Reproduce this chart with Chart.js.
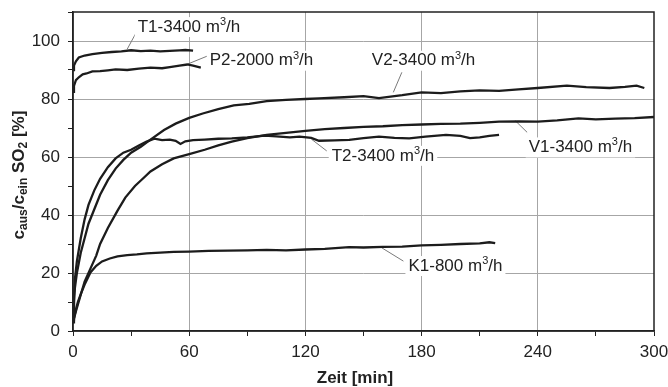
<!DOCTYPE html>
<html>
<head>
<meta charset="utf-8">
<script src="https://cdn.jsdelivr.net/npm/chart.js@4"></script>
<style>
  body { margin: 0; background: #fff; }
  #wrap { width: 668px; height: 387px; }
</style>
</head>
<body>
<div id="wrap"><canvas id="chart"></canvas></div>
<script>
// values (time in min, c_aus/c_ein in %)
const t1Time = [0, 0.5, 1.5, 3, 6, 10, 15, 20, 25, 30, 35, 40, 45, 50, 55, 58, 62];
const t1Val  = [90, 91.5, 93, 94.3, 95, 95.5, 95.9, 96.2, 96.4, 96.8, 96.5, 96.7, 96.4, 96.6, 96.8, 96.9, 96.7];

const p2Time = [0, 0.5, 1.5, 3, 5, 7, 10, 14, 18, 22, 28, 34, 40, 46, 50, 55, 59, 62, 66];
const p2Val  = [82.5, 84.5, 86.5, 87.5, 88.5, 88.8, 89.5, 89.6, 89.9, 90.2, 90, 90.5, 90.8, 90.6, 91, 91.5, 91.9, 91.5, 90.8];

const v2Time = [0, 0.5, 1, 2, 4, 6, 8, 11, 14, 18, 22, 26, 30, 35, 40, 47, 53, 60, 67, 75, 83, 91, 100, 110, 120, 127, 140, 150, 158, 170, 180, 190, 200, 210, 220, 230, 240, 255, 265, 277, 285, 291, 295];
const v2Val  = [3, 10, 15, 20, 27, 32, 37, 42, 47, 52, 56, 59, 61.5, 63.5, 66, 69.3, 71.5, 73.5, 75, 76.5, 77.8, 78.3, 79.3, 79.7, 80, 80.2, 80.6, 81, 80.3, 81.3, 82.3, 82, 82.6, 83, 82.8, 83.3, 83.8, 84.6, 84.1, 83.8, 84.2, 84.6, 83.8];

const v1Time = [0, 2, 4, 6, 9, 12, 14, 18, 23, 27, 32, 36, 40, 46, 52, 60, 68, 75, 82, 90, 100, 110, 120, 130, 140, 150, 160, 170, 180, 190, 200, 210, 220, 230, 240, 250, 261, 270, 280, 290, 300];
const v1Val  = [3, 8, 12.5, 17, 21.5, 26, 30, 35.5, 41.5, 46, 50, 52.5, 55, 57.5, 59.5, 61, 62.5, 64, 65.3, 66.5, 67.6, 68.3, 69, 69.6, 70, 70.4, 70.6, 71, 71.2, 71.4, 71.5, 71.8, 72.2, 72.3, 72.2, 72.6, 73.3, 73, 73.2, 73.4, 73.8];

const t2Time = [0, 0.5, 1, 2, 4, 6, 8, 11, 14, 18, 22, 26, 30, 34, 38, 42, 46, 50, 53, 55.5, 58, 62, 68, 75, 82, 90, 99, 105, 112, 117, 123, 127, 135, 142.6, 150, 158, 166, 173.6, 182, 192.6, 200, 205, 210, 215, 220];
const t2Val  = [4, 12, 18, 24, 32, 38.5, 43.5, 48.5, 52.5, 56.5, 59.5, 61.5, 62.5, 64, 65.3, 66.3, 65.8, 66, 65.6, 64.5, 65.4, 65.8, 66, 66.3, 66.4, 66.8, 67.4, 67.1, 66.8, 67, 66.6, 65.6, 65.7, 65.9, 66.5, 67, 66.6, 66.4, 67, 67.6, 67.3, 66.5, 66.8, 67.3, 67.6];

const k1Time = [0, 1, 2.5, 4, 6, 9, 12, 15, 19, 23, 28, 33, 38, 45, 52, 60, 70, 80, 90, 100, 110, 120, 130, 142.6, 150, 160, 170, 180, 190, 200, 210, 215, 218];
const k1Val  = [3, 6, 10, 12.7, 16, 20.2, 22.5, 24, 25, 25.7, 26.2, 26.4, 26.8, 27, 27.3, 27.4, 27.6, 27.7, 27.8, 28, 27.8, 28.1, 28.3, 28.9, 28.8, 29, 29.1, 29.5, 29.7, 30, 30.2, 30.6, 30.3];

// label texts, positions in data units (text left edge, text middle) and leader lines
const labelNames = ['T1-3400 m', 'P2-2000 m', 'V2-3400 m', 'T2-3400 m', 'V1-3400 m', 'K1-800 m'];
const labelX = [33.4, 70.6, 154.3, 133.6, 235.3, 173.2];
const labelY = [104.8, 93.2, 93.2, 60.4, 63.3, 22.4];
const leaderFrom = [[32.7, 103], [69.7, 94.9], [169.8, 89.2], [131, 62.1], [234.5, 68.5], [170.6, 24.1]];
const leaderTo   = [[28, 97.2], [59.4, 92.1], [165.4, 82.3], [123.2, 66.1], [228.4, 72.5], [159.4, 28.7]];

const FONT = '"Liberation Sans", Arial, sans-serif';
const LINE = '#1c1c1c';

function pts(ts, vs) {
    return ts.map((t, i) => ({ x: t, y: vs[i] }));
}

function series(ts, vs) {
    return {
        data: pts(ts, vs),
        borderColor: LINE,
        borderWidth: 2.3,
        pointRadius: 0,
        fill: false,
        tension: 0
    };
}

// draws a row of text parts, some of them raised or lowered in a smaller font
function drawParts(ctx, parts, x, y) {
    let cx = x;
    parts.forEach(p => {
        ctx.font = p.font;
        ctx.fillText(p.t, cx, y + (p.dy || 0));
        cx += ctx.measureText(p.t).width;
    });
    return cx - x;
}

function partsWidth(ctx, parts) {
    let w = 0;
    parts.forEach(p => { ctx.font = p.font; w += ctx.measureText(p.t).width; });
    return w;
}

const decor = {
    id: 'decor',
    beforeDatasetsDraw(chart) {
        const ctx = chart.ctx;
        const xs = chart.scales.x, ys = chart.scales.y;
        ctx.save();
        // leader lines
        ctx.strokeStyle = '#7a7a7a';
        ctx.lineWidth = 1;
        leaderFrom.forEach((f, i) => {
            ctx.beginPath();
            ctx.moveTo(xs.getPixelForValue(f[0]), ys.getPixelForValue(f[1]));
            ctx.lineTo(xs.getPixelForValue(leaderTo[i][0]), ys.getPixelForValue(leaderTo[i][1]));
            ctx.stroke();
        });
        // labels with white box
        ctx.textBaseline = 'middle';
        ctx.textAlign = 'left';
        labelNames.forEach((name, i) => {
            const parts = [
                { t: name, font: '17px ' + FONT },
                { t: '3', font: '11px ' + FONT, dy: -5 },
                { t: '/h', font: '17px ' + FONT }
            ];
            const x = xs.getPixelForValue(labelX[i]);
            const y = ys.getPixelForValue(labelY[i]);
            const w = partsWidth(ctx, parts);
            ctx.fillStyle = '#fff';
            ctx.fillRect(x - 3, y - 10, w + 6, 20);
            ctx.fillStyle = '#222';
            drawParts(ctx, parts, x, y);
        });
        ctx.restore();
    },
    afterDraw(chart) {
        const ctx = chart.ctx;
        const a = chart.chartArea;
        ctx.save();
        // frame round the plot
        ctx.strokeStyle = '#222';
        ctx.lineWidth = 1.5;
        ctx.strokeRect(a.left, a.top, a.right - a.left, a.bottom - a.top);

        ctx.fillStyle = '#222';
        ctx.textBaseline = 'middle';
        // x title
        ctx.textAlign = 'left';
        const xt = [{ t: 'Zeit [min]', font: 'bold 17px ' + FONT }];
        drawParts(ctx, xt, 355 - partsWidth(ctx, xt) / 2, 378);

        // y title with subscripts
        const big = 'bold 17px ' + FONT, small = 'bold 12px ' + FONT;
        const yt = [
            { t: 'c', font: big }, { t: 'aus', font: small, dy: 5 },
            { t: '/c', font: big }, { t: 'ein', font: small, dy: 5 },
            { t: ' SO', font: big }, { t: '2', font: small, dy: 5 },
            { t: ' [%]', font: big }
        ];
        ctx.translate(19, 175);
        ctx.rotate(-Math.PI / 2);
        drawParts(ctx, yt, -partsWidth(ctx, yt) / 2, 0);
        ctx.restore();
    }
};

new Chart(document.getElementById('chart'), {
    type: 'line',
    data: {
        datasets: [
            series(t1Time, t1Val),
            series(p2Time, p2Val),
            series(v2Time, v2Val),
            series(v1Time, v1Val),
            series(t2Time, t2Val),
            series(k1Time, k1Val)
        ]
    },
    options: {
        responsive: true,
        maintainAspectRatio: false,
        animation: false,
        layout: { padding: { left: 0, right: 14, top: 12, bottom: 0 } },
        plugins: {
            legend: { display: false },
            tooltip: { enabled: false }
        },
        scales: {
            x: {
                type: 'linear',
                min: 0,
                max: 300,
                afterFit: s => { s.height = 56; s.paddingLeft = 0; s.paddingRight = 0; },
                ticks: {
                    stepSize: 30,
                    padding: 6,
                    color: '#222',
                    font: { family: FONT, size: 17 },
                    maxRotation: 0,
                    callback: v => (v % 60 === 0 ? v : '')
                },
                grid: {
                    color: c => (c.tick.value % 60 === 0 && c.tick.value > 0 && c.tick.value < 300 ? '#a6a6a6' : 'rgba(0,0,0,0)'),
                    tickColor: '#222',
                    tickLength: 5,
                    lineWidth: 1
                },
                border: { color: '#222', width: 1.5 }
            },
            y: {
                min: 0,
                max: 110,
                afterFit: s => { s.width = 73; s.paddingTop = 0; s.paddingBottom = 0; },
                ticks: {
                    stepSize: 10,
                    padding: 8,
                    color: '#222',
                    font: { family: FONT, size: 17 },
                    callback: v => (v % 20 === 0 && v <= 100 ? v : '')
                },
                grid: {
                    color: c => (c.tick.value % 20 === 0 && c.tick.value > 0 && c.tick.value <= 100 ? '#a6a6a6' : 'rgba(0,0,0,0)'),
                    tickColor: '#222',
                    tickLength: 5,
                    lineWidth: 1
                },
                border: { color: '#222', width: 1.5 }
            }
        }
    },
    plugins: [decor]
});
</script>
</body>
</html>
